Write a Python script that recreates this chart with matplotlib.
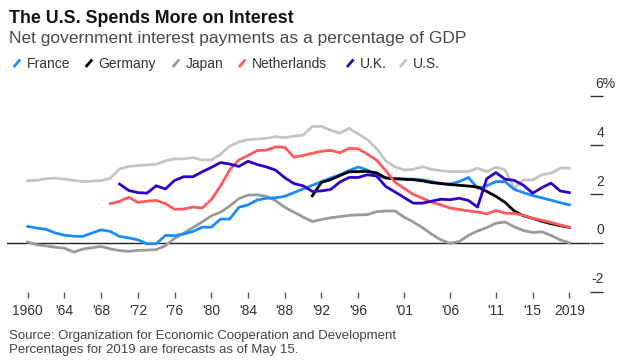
import matplotlib
matplotlib.use('Agg')
import matplotlib.pyplot as plt
import matplotlib.transforms as mtransforms
from matplotlib.lines import Line2D

plt.rcParams['font.family'] = ['Liberation Sans', 'DejaVu Sans']

W, H, DPI = 620, 361, 100

# net interest payments, % of GDP
france_start = 1960
france = [0.67, 0.60, 0.55, 0.40, 0.31, 0.27, 0.26, 0.40, 0.53, 0.46,
          0.26, 0.20, 0.12, -0.04, -0.04, 0.30, 0.29, 0.36, 0.46, 0.64,
          0.64, 0.97, 0.97, 1.45, 1.55, 1.75, 1.82, 1.84, 1.90, 2.05,
          2.20, 2.35, 2.50, 2.65, 2.78, 2.95, 3.10, 2.97, 2.75, 2.65,
          2.62, 2.60, 2.60, 2.57, 2.50, 2.42, 2.40, 2.50, 2.67, 2.23,
          2.33, 2.50, 2.50, 2.18, 2.05, 1.93, 1.84, 1.74, 1.64, 1.55]

germany_start = 1991
germany = [1.92, 2.47, 2.58, 2.75, 2.90, 2.91, 2.92, 2.86, 2.65, 2.62,
           2.60, 2.58, 2.53, 2.46, 2.42, 2.38, 2.35, 2.32, 2.28, 2.10,
           1.90, 1.65, 1.30, 1.10, 1.00, 0.88, 0.78, 0.70, 0.63]

japan_start = 1960
japan = [0.03, -0.08, -0.13, -0.18, -0.22, -0.38, -0.26, -0.20, -0.15, -0.25,
         -0.32, -0.35, -0.31, -0.30, -0.28, -0.12, 0.18, 0.40, 0.62, 0.85,
         1.10, 1.25, 1.50, 1.80, 1.95, 1.96, 1.90, 1.72, 1.45, 1.25,
         1.05, 0.87, 0.95, 1.02, 1.07, 1.12, 1.14, 1.15, 1.27, 1.30,
         1.30, 1.05, 0.85, 0.62, 0.35, 0.12, -0.02, 0.05, 0.30, 0.48,
         0.62, 0.80, 0.85, 0.65, 0.50, 0.42, 0.45, 0.30, 0.12, 0.00]

netherlands_start = 1969
netherlands = [1.60,
               1.69, 1.86, 1.65, 1.70, 1.73, 1.60, 1.37, 1.38, 1.46, 1.42,
               1.76, 2.32, 2.98, 3.39, 3.57, 3.77, 3.79, 3.92, 3.90, 3.50,
               3.57, 3.66, 3.74, 3.78, 3.68, 3.86, 3.84, 3.62, 3.38, 2.95,
               2.48, 2.22, 1.98, 1.82, 1.66, 1.55, 1.42, 1.36, 1.30, 1.26,
               1.18, 1.32, 1.21, 1.20, 1.12, 1.00, 0.92, 0.83, 0.73, 0.64]

uk_start = 1970
uk = [2.40, 2.14, 2.05, 2.03, 2.33, 2.20, 2.55, 2.70, 2.70, 2.90,
      3.08, 3.28, 3.22, 3.12, 3.33, 3.20, 3.10, 2.97, 2.66, 2.42,
      2.33, 2.10, 2.12, 2.18, 2.48, 2.67, 2.67, 2.78, 2.73, 2.30,
      2.08, 1.85, 1.62, 1.62, 1.70, 1.78, 1.76, 1.82, 1.73, 1.46,
      2.62, 2.87, 2.60, 2.55, 2.35, 2.03, 2.25, 2.44, 2.12, 2.05]

us_start = 1960
us = [2.54, 2.55, 2.62, 2.64, 2.60, 2.55, 2.50, 2.52, 2.54, 2.64,
      3.02, 3.12, 3.16, 3.18, 3.21, 3.35, 3.43, 3.43, 3.48, 3.39,
      3.39, 3.62, 3.95, 4.12, 4.22, 4.24, 4.27, 4.34, 4.30, 4.36,
      4.40, 4.75, 4.76, 4.60, 4.48, 4.68, 4.45, 4.22, 3.85, 3.35,
      3.10, 2.98, 3.00, 3.11, 3.00, 2.95, 2.91, 2.91, 2.91, 3.05,
      2.91, 3.09, 2.98, 2.23, 2.57, 2.57, 2.78, 2.84, 3.05, 3.05]

legend_names = ['France', 'Germany', 'Japan', 'Netherlands', 'U.K.', 'U.S.']
colors = {'France': '#1a8cff', 'Germany': '#000000', 'Japan': '#9a9a9a',
          'Netherlands': '#ff5a5f', 'U.K.': '#2f00cc', 'U.S.': '#c4c4c4'}
series = {'France': (france_start, france),
          'Germany': (germany_start, germany),
          'Japan': (japan_start, japan),
          'Netherlands': (netherlands_start, netherlands),
          'U.K.': (uk_start, uk),
          'U.S.': (us_start, us)}
draw_order = ['U.S.', 'Japan', 'France', 'Germany', 'Netherlands', 'U.K.']

xtick_years = [1960, 1964, 1968, 1972, 1976, 1980, 1984, 1988, 1992,
               1996, 2001, 2006, 2011, 2015, 2019]
xtick_labels = ['1960', "'64", "'68", "'72", "'76", "'80", "'84", "'88",
                "'92", "'96", "'01", "'06", "'11", "'15", '2019']
ytick_vals = [-2, 0, 2, 4, 6]
ytick_labels = ['-2', '0', '2', '4', '6%']


def fx(px):
    return px / W


def fy(py):
    return 1 - py / H


fig = plt.figure(figsize=(W / DPI, H / DPI), dpi=DPI)
ax = fig.add_axes([fx(6.7), fy(291.7), (590 - 6.7) / W, (291.7 - 96) / H])

for name in draw_order:
    start, vals = series[name]
    ax.plot(range(start, start + len(vals)), vals, color=colors[name],
            lw=2.0, solid_joinstyle='round', zorder=3)

ax.axhline(0, color='#222222', lw=1, zorder=2)

ax.set_xlim(1957.71, 2021.25)
ax.set_ylim(-2, 6)
for s in ax.spines.values():
    s.set_visible(False)

ax.set_xticks(xtick_years)
ax.set_xticklabels(xtick_labels)
ax.tick_params(axis='x', direction='out', length=4, width=1, color='#555555',
               pad=5, labelsize=10, labelcolor='#333333')

ax.yaxis.tick_right()
ax.set_yticks(ytick_vals)
ax.tick_params(axis='y', direction='out', length=9.6, width=1,
               color='#333333', labelright=False, labelleft=False)

# y labels sit above their tick dashes
base = mtransforms.blended_transform_factory(ax.transAxes, ax.transData)
for v, lab in zip(ytick_vals, ytick_labels):
    if lab.endswith('%'):
        tr = mtransforms.offset_copy(base, x=5, y=8.3, units='dots')
        ha = 'left'
    else:
        tr = mtransforms.offset_copy(base, x=14, y=8.3, units='dots')
        ha = 'right'
    ax.text(1, v, lab, transform=tr, ha=ha, va='baseline', fontsize=10,
            color='#333333')

# titles
fig.text(fx(9), fy(22.7), 'The U.S. Spends More on Interest', fontsize=12.8,
         fontweight='bold', color='#111111', va='baseline')
fig.text(fx(9), fy(42.7),
         'Net government interest payments as a percentage of GDP',
         fontsize=12.5, color='#4a4a4a', va='baseline')

# legend with slanted line keys, text starts as in the original
legend_x = [26.7, 98.7, 185.7, 252, 360, 413]
for name, tx in zip(legend_names, legend_x):
    kx = tx - 13
    fig.add_artist(Line2D([fx(kx), fx(kx + 6.5)], [fy(67), fy(59.5)],
                          transform=fig.transFigure, color=colors[name],
                          lw=2.0, solid_capstyle='butt'))
    fig.text(fx(tx), fy(68.3), name, fontsize=10, color='#333333',
             va='baseline')

# footer
fig.text(fx(9), fy(339.3),
         'Source: Organization for Economic Cooperation and Development',
         fontsize=9.5, color='#444444', va='baseline')
fig.text(fx(9), fy(352.7), 'Percentages for 2019 are forecasts as of May 15.',
         fontsize=9.5, color='#444444', va='baseline')

fig.savefig('out.png', dpi=DPI)
